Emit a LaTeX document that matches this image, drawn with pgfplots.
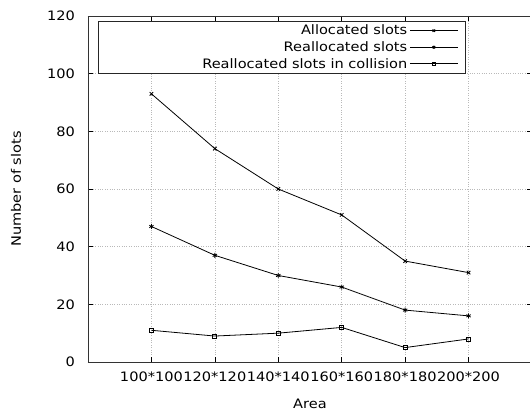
\documentclass[border=0pt]{standalone}
\usepackage{fontspec}
\setmainfont[FakeStretch=1.12]{DejaVu Sans}
\usepackage{pgfplots}
\pgfplotsset{compat=1.18}
\begin{document}
\begin{tikzpicture}[x=1pt,y=1pt,font=\fontsize{13}{15}\selectfont]
\begin{axis}[
  at={(0,0)}, anchor=south west, scale only axis,
  width=444pt, height=346pt,
  xmin=-1, xmax=6, ymin=0, ymax=120,
  xtick={0,1,2,3,4,5},
  xticklabels={100*100,120*120,140*140,160*160,180*180,200*200},
  ytick={0,20,40,60,80,100,120},
  grid=major, grid style={dotted, gray!55, line width=0.5pt},
  tick align=inside, major tick length=5pt,
  tick style={black, line width=0.5pt},
  axis line style={black!80, line width=0.6pt},
  font=\fontsize{13}{15}\selectfont,
  /pgf/number format/assume math mode=true,
  xticklabel style={yshift=-6pt, font=\fontsize{13}{15}\selectfont},
  yticklabel style={xshift=-9.5pt, font=\fontsize{13}{15}\selectfont},
  xlabel={Area}, ylabel={Number of slots},
  every axis y label/.style={at={(axis description cs:-0.1622,0.5)}, rotate=90, anchor=center, font=\fontsize{13}{15}\selectfont},
  every axis x label/.style={at={(axis description cs:0.5,-0.12)}, anchor=center, font=\fontsize{13}{15}\selectfont},
  legend plot pos=right,
  legend cell align=right,
  legend style={at={(axis description cs:0.0225,0.985)}, anchor=north west,
    draw=black!85, line width=0.6pt, inner xsep=7pt, inner ysep=1.5pt, row sep=1.2pt,
    font=\fontsize{13}{15}\selectfont},
  legend image code/.code={\draw[mark repeat=2,mark phase=2,#1,line width=1pt,mark size=1.7pt] plot coordinates {(0pt,0pt) (24pt,0pt) (48pt,0pt)};},
]
\addplot[black, line width=0.8pt, mark=x, mark size=2.5pt, mark options={solid}]
  coordinates {(0,93) (1,74) (2,60) (3,51) (4,35) (5,31)};
\addlegendentry{\makebox[300pt][r]{Allocated slots}\hspace{4pt}}
\addplot[black, line width=0.8pt, mark=asterisk, mark size=2.5pt, mark options={solid}]
  coordinates {(0,47) (1,37) (2,30) (3,26) (4,18) (5,16)};
\addlegendentry{\makebox[300pt][r]{Reallocated slots}\hspace{4pt}}
\addplot[black, line width=0.8pt, mark=square, mark size=2pt, mark options={solid}]
  coordinates {(0,11) (1,9) (2,10) (3,12) (4,5) (5,8)};
\addlegendentry{\makebox[300pt][r]{Reallocated slots in collision}\hspace{4pt}}
\end{axis}
\pgfresetboundingbox
\useasboundingbox (-88,-50) rectangle (442,362);
\end{tikzpicture}
\end{document}
